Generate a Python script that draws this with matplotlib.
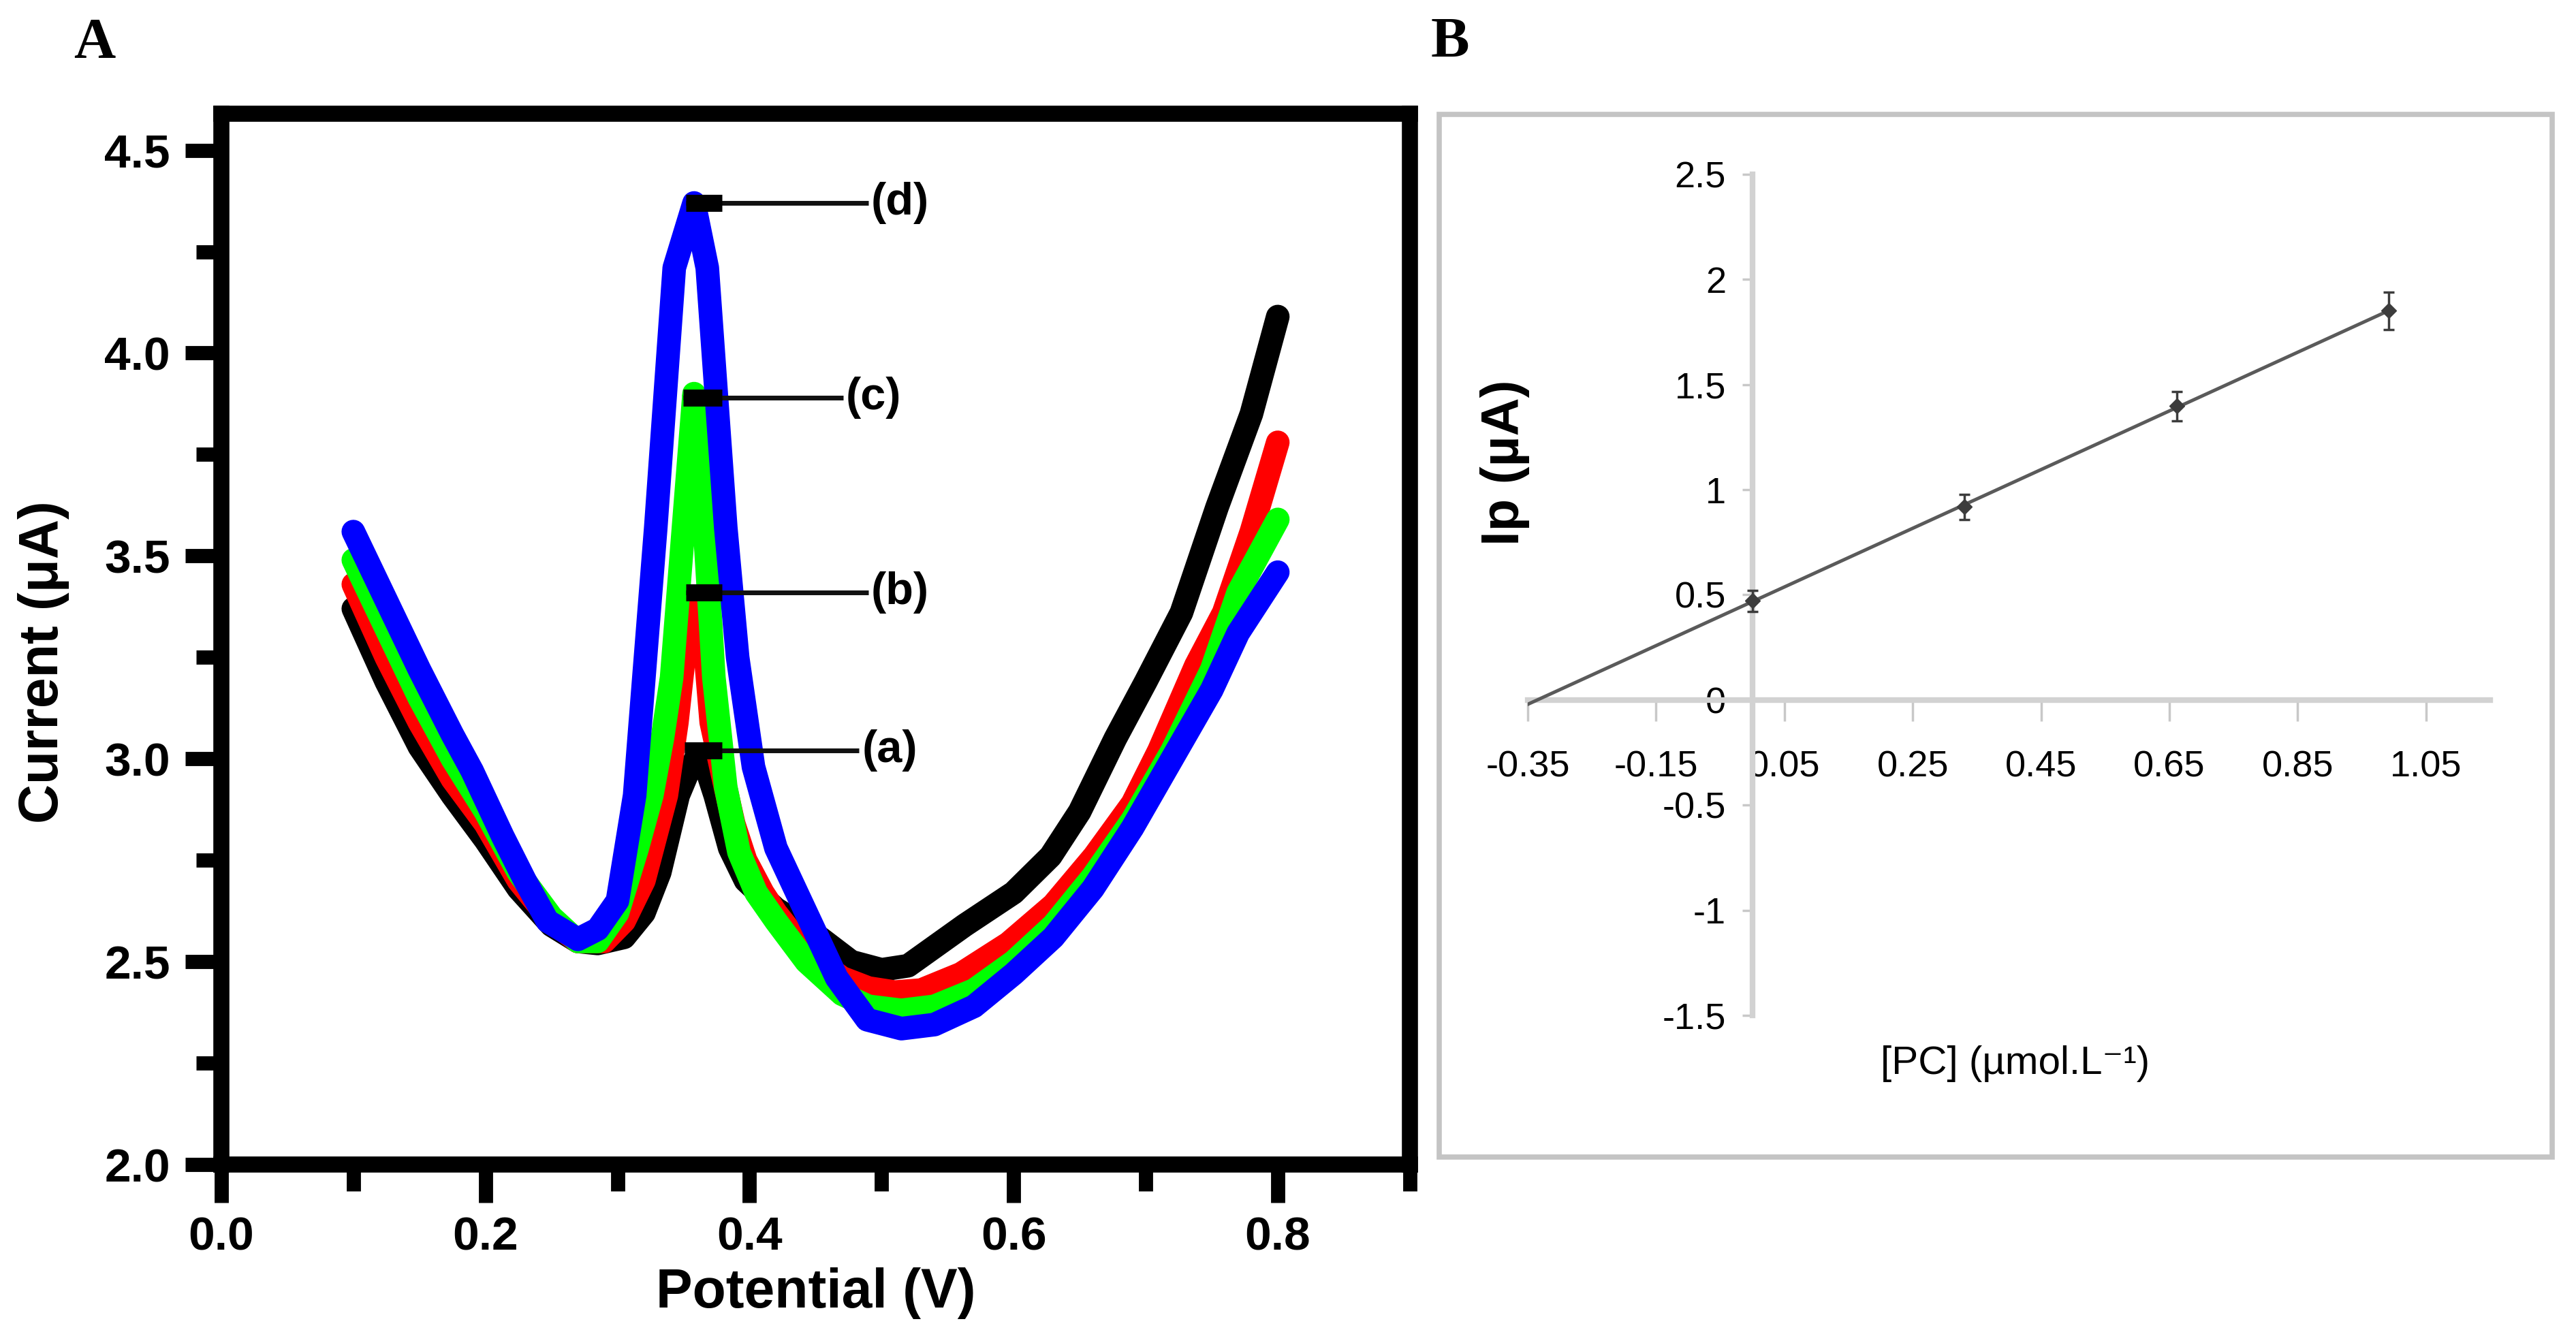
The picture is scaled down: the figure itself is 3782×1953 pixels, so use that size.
import numpy as np
import matplotlib
matplotlib.use("Agg")
import matplotlib.pyplot as plt
from matplotlib.patches import Rectangle
from matplotlib.ticker import MultipleLocator

plt.rcParams['font.family'] = ['Liberation Sans', 'DejaVu Sans']

# ---- panel A : DPV curves (a)-(d) ----
x_a = [0.10, 0.125, 0.15, 0.175, 0.20, 0.225, 0.25, 0.27, 0.285, 0.305, 0.32, 0.332,
       0.346, 0.355, 0.362, 0.368, 0.374, 0.385, 0.397, 0.41, 0.42, 0.44, 0.454, 0.477,
       0.50, 0.52, 0.563, 0.60, 0.628, 0.65, 0.677, 0.70, 0.727, 0.754, 0.78, 0.80]
y_a = [3.37, 3.19, 3.03, 2.91, 2.80, 2.68, 2.59, 2.55, 2.545, 2.56, 2.62, 2.72,
       2.91, 2.98, 3.01, 2.97, 2.91, 2.78, 2.70, 2.66, 2.63, 2.59, 2.557, 2.50,
       2.48, 2.49, 2.59, 2.67, 2.76, 2.87, 3.05, 3.19, 3.36, 3.62, 3.85, 4.09]

x_b = [0.10, 0.125, 0.15, 0.175, 0.20, 0.225, 0.25, 0.27, 0.29, 0.305, 0.32, 0.337,
       0.345, 0.352, 0.358, 0.364, 0.371, 0.379, 0.388, 0.397, 0.41, 0.42, 0.443, 0.47,
       0.49, 0.51, 0.53, 0.56, 0.596, 0.63, 0.661, 0.69, 0.71, 0.738, 0.759, 0.78, 0.80]
y_b = [3.43, 3.25, 3.09, 2.95, 2.84, 2.70, 2.60, 2.55, 2.55, 2.60, 2.70, 2.91,
       3.09, 3.30, 3.40, 3.36, 3.09, 2.97, 2.84, 2.75, 2.67, 2.62, 2.525, 2.46,
       2.435, 2.425, 2.43, 2.47, 2.545, 2.64, 2.76, 2.89, 3.02, 3.23, 3.36, 3.56, 3.78]

x_c = [0.10, 0.125, 0.15, 0.175, 0.20, 0.225, 0.25, 0.27, 0.285, 0.30, 0.315, 0.326,
       0.334, 0.341, 0.35, 0.358, 0.366, 0.373, 0.382, 0.392, 0.405, 0.42, 0.443, 0.47,
       0.49, 0.515, 0.54, 0.57, 0.60, 0.63, 0.66, 0.69, 0.72, 0.75, 0.77, 0.80]
y_c = [3.49, 3.32, 3.15, 3.00, 2.87, 2.72, 2.61, 2.55, 2.55, 2.62, 2.78, 2.91,
       3.05, 3.20, 3.57, 3.90, 3.57, 3.20, 2.93, 2.77, 2.67, 2.60, 2.50, 2.42,
       2.39, 2.38, 2.39, 2.43, 2.50, 2.59, 2.71, 2.85, 3.02, 3.22, 3.41, 3.59]

x_d = [0.10, 0.125, 0.15, 0.175, 0.19, 0.213, 0.23, 0.247, 0.27, 0.285, 0.30, 0.313,
       0.32, 0.329, 0.336, 0.343, 0.358, 0.368, 0.375, 0.382, 0.391, 0.403, 0.42, 0.443,
       0.466, 0.489, 0.515, 0.54, 0.57, 0.60, 0.63, 0.66, 0.69, 0.72, 0.75, 0.77, 0.80]
y_d = [3.56, 3.39, 3.22, 3.06, 2.97, 2.81, 2.70, 2.60, 2.555, 2.58, 2.65, 2.91,
       3.20, 3.57, 3.89, 4.21, 4.37, 4.21, 3.89, 3.57, 3.25, 2.98, 2.78, 2.62,
       2.46, 2.357, 2.335, 2.345, 2.39, 2.47, 2.56, 2.68, 2.83, 3.00, 3.17, 3.31, 3.46]

curve_labels = ['(a)', '(b)', '(c)', '(d)']
peak_x = [0.351, 0.352, 0.350, 0.352]
peak_y = [3.02, 3.41, 3.89, 4.37]
line_end = [0.483, 0.490, 0.471, 0.490]

# ---- panel B : calibration ----
conc = [0.0, 0.33, 0.662, 0.992]
ip = [0.472, 0.919, 1.398, 1.851]
ip_err = [0.05, 0.06, 0.07, 0.09]
xticks_b = [-0.35, -0.15, 0.05, 0.25, 0.45, 0.65, 0.85, 1.05]
xtick_labels_b = ['-0.35', '-0.15', '0.05', '0.25', '0.45', '0.65', '0.85', '1.05']
yticks_b = [-1.5, -1, -0.5, 0, 0.5, 1, 1.5, 2, 2.5]
ytick_labels_b = ['-1.5', '-1', '-0.5', '0', '0.5', '1', '1.5', '2', '2.5']

fig = plt.figure(figsize=(37.82, 19.53), dpi=100)

# ===== panel A =====
ax = fig.add_axes([0.0859, 0.1244, 0.4614, 0.7901])
for xs, ys, col in zip([x_a, x_b, x_c, x_d], [y_a, y_b, y_c, y_d],
                       ['#000000', '#ff0000', '#00ff00', '#0000ff']):
    ax.plot(xs, ys, color=col, lw=25, solid_capstyle='round', solid_joinstyle='round')

for lab, px, py, xe in zip(curve_labels, peak_x, peak_y, line_end):
    ax.plot([px, xe], [py, py], color='#111111', lw=5, solid_capstyle='butt', zorder=5)
    ax.plot([px, 0.379], [py, py], color='black', lw=18, solid_capstyle='butt', zorder=6)
    ax.text(xe + 0.002, py, lab, fontsize=48, fontweight='bold', ha='left', va='center')

ax.set_xlim(0, 0.9)
ax.set_ylim(2.0, 4.59)
ax.xaxis.set_major_locator(MultipleLocator(0.2))
ax.xaxis.set_minor_locator(MultipleLocator(0.1))
ax.yaxis.set_major_locator(MultipleLocator(0.5))
ax.yaxis.set_minor_locator(MultipleLocator(0.25))
ax.xaxis.set_major_formatter(plt.FormatStrFormatter('%.1f'))
ax.yaxis.set_major_formatter(plt.FormatStrFormatter('%.1f'))
for s in ax.spines.values():
    s.set_linewidth(17)
ax.tick_params(which='major', direction='out', length=38, width=15, pad=16, labelsize=50)
ax.tick_params(axis='x', which='major', length=40, pad=14)
ax.tick_params(which='minor', direction='out', length=27, width=15)
ax.tick_params(axis='x', which='minor', length=28)
for t in ax.get_xticklabels() + ax.get_yticklabels():
    t.set_fontweight('bold')
ax.set_xlabel('Potential (V)', fontsize=58, fontweight='bold')
ax.xaxis.set_label_coords(0.5, -0.098)
ax.set_ylabel('Current (μA)', fontsize=58, fontweight='bold')
ax.yaxis.set_label_coords(-0.128, 0.478)

fig.text(0.0286, 0.9565, 'A', fontsize=61, fontweight='bold',
         family=['Liberation Serif', 'DejaVu Serif'], ha='left', va='baseline')

# ===== panel B =====
narrow = ['Liberation Sans Narrow', 'Liberation Sans', 'DejaVu Sans']
fig.add_artist(Rectangle((0.5587, 0.130), 0.432, 0.784, transform=fig.transFigure,
                         fill=False, edgecolor='#c4c4c4', lw=5.5))
fig.text(0.5555, 0.957, 'B', fontsize=61, fontweight='bold',
         family=['Liberation Serif', 'DejaVu Serif'], ha='left', va='baseline')

bx = fig.add_axes([0.5931, 0.2366, 0.3736, 0.6323])
bx.set_xlim(-0.35, 1.15)
bx.set_ylim(-1.5, 2.5)
bx.spines['top'].set_visible(False)
bx.spines['right'].set_visible(False)
bx.spines['left'].set_position(('data', 0))
bx.spines['bottom'].set_position(('data', 0))
for k in ['left', 'bottom']:
    bx.spines[k].set_color('#d2d2d2')
    bx.spines[k].set_linewidth(6)

fit = np.polyfit(conc, ip, 1)
fit_x = np.array([-0.35, conc[-1]])
bx.plot(fit_x, np.polyval(fit, fit_x), color='#5a5a5a', lw=3.6, zorder=3)
bx.errorbar(conc, ip, yerr=ip_err, fmt='D', ms=11, color='#3c3c3c', ecolor='#3c3c3c',
            elinewidth=2.5, capsize=5.5, capthick=2.5, zorder=4)

bx.set_xticks(xticks_b)
bx.set_xticklabels(xtick_labels_b)
bx.set_yticks(yticks_b)
bx.set_yticklabels(ytick_labels_b)
bx.tick_params(axis='x', direction='out', length=22, width=2.5, color='#c8c8c8', pad=31)
bx.tick_params(axis='y', direction='out', length=11, width=2.5, color='#c8c8c8', pad=17)
for t in bx.get_xticklabels() + bx.get_yticklabels():
    t.set_family(narrow)
    t.set_fontsize(39)

bx.text(0.41, -1.73, '[PC] (µmol.L⁻¹)', fontsize=42, family=narrow, ha='center', va='center')
fig.text(0.5843, 0.652, 'Ip (µA)', fontsize=56, fontweight='bold', family=narrow,
         rotation=90, ha='center', va='center')

fig.savefig('out.png', dpi=100, facecolor='white')
